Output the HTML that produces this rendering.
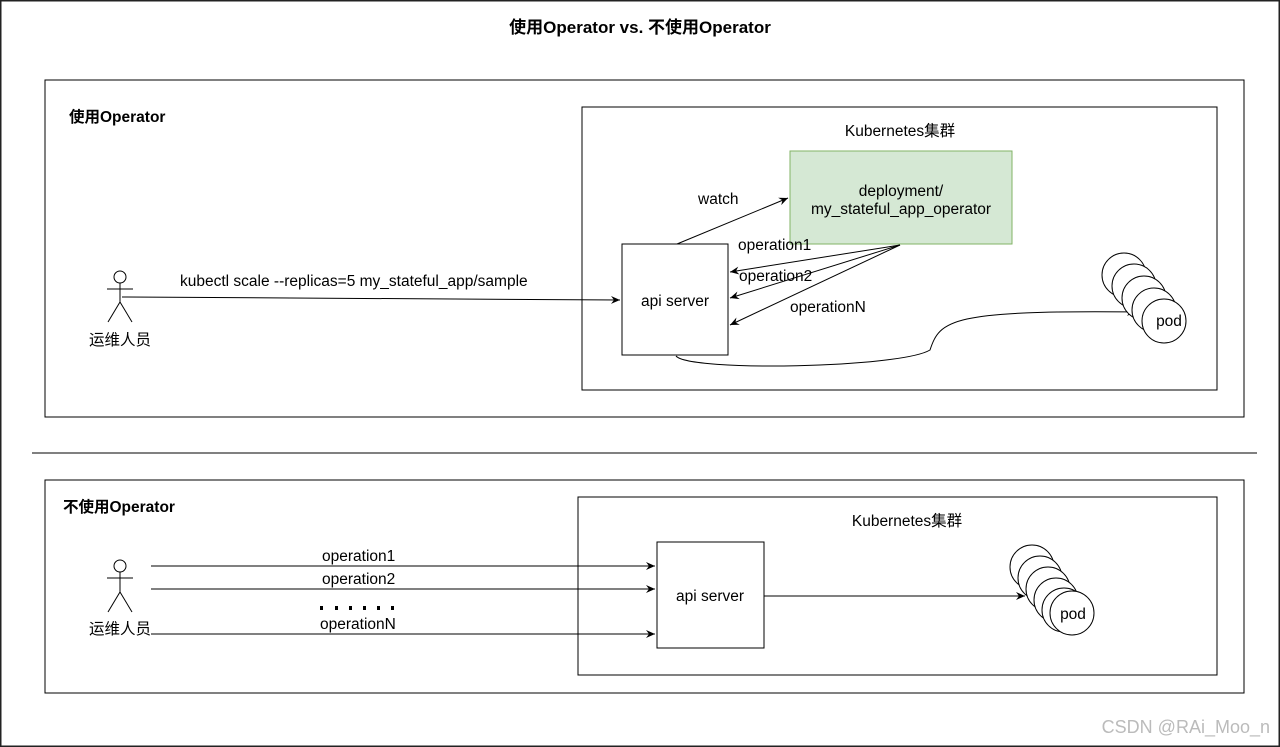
<!DOCTYPE html>
<html><head><meta charset="utf-8"><style>body{margin:0;background:#fff}svg{display:block}text{font-family:"Liberation Sans","Noto Sans CJK SC",sans-serif;font-size:15.5px;fill:#000}</style></head><body>
<svg width="1280" height="747" viewBox="0 0 1280 747">
<defs><marker id="a" markerWidth="10" markerHeight="10" refX="9" refY="5" orient="auto" markerUnits="userSpaceOnUse"><path d="M0,1 L9,5 L0,9 L3,5 Z" fill="#000"/></marker></defs>
<rect x="0.5" y="0.5" width="1279" height="746" fill="#fff" stroke="#222" stroke-width="2"/>
<text x="640" y="33" text-anchor="middle" font-weight="bold" style="font-size:17px">使用Operator vs. 不使用Operator</text>
<rect x="45" y="80" width="1199" height="337" fill="none" stroke="#000"/>
<text x="69" y="122" font-weight="bold">使用Operator</text>
<rect x="582" y="107" width="635" height="283" fill="none" stroke="#000"/>
<text x="900" y="136" text-anchor="middle">Kubernetes集群</text>
<rect x="790" y="151" width="222" height="93" fill="#d5e8d4" stroke="#82b366"/>
<text x="901" y="196" text-anchor="middle">deployment/</text>
<text x="901" y="214" text-anchor="middle">my_stateful_app_operator</text>
<rect x="622" y="244" width="106" height="111" fill="#fff" stroke="#000"/>
<text x="675" y="306" text-anchor="middle">api server</text>
<line x1="677" y1="244" x2="788" y2="198" stroke="#000" marker-end="url(#a)"/>
<text x="698" y="204">watch</text>
<line x1="900" y1="245" x2="730" y2="272" stroke="#000" marker-end="url(#a)"/>
<line x1="900" y1="245" x2="730" y2="298" stroke="#000" marker-end="url(#a)"/>
<line x1="900" y1="245" x2="730" y2="325" stroke="#000" marker-end="url(#a)"/>
<text x="738" y="250">operation1</text>
<text x="739" y="281">operation2</text>
<text x="790" y="312">operationN</text>
<path d="M676,356 C690,372 900,368 930,350 C940,320 950,310 1136,312" fill="none" stroke="#000" marker-end="url(#a)"/>
<g fill="#fff" stroke="#000"><circle cx="1124" cy="275" r="22"/><circle cx="1134" cy="286" r="22"/><circle cx="1144" cy="298" r="22"/><circle cx="1154" cy="310" r="22"/><circle cx="1164" cy="321" r="22"/></g>
<text x="1169" y="326" text-anchor="middle">pod</text>
<g stroke="#000" fill="none"><circle cx="120" cy="277" r="6"/><line x1="120" y1="283" x2="120" y2="302"/><line x1="107" y1="289" x2="133" y2="289"/><line x1="120" y1="302" x2="108" y2="322"/><line x1="120" y1="302" x2="132" y2="322"/></g>
<text x="120" y="345" text-anchor="middle">运维人员</text>
<line x1="122" y1="297" x2="620" y2="300" stroke="#000" marker-end="url(#a)"/>
<text x="180" y="286">kubectl scale --replicas=5 my_stateful_app/sample</text>
<line x1="32" y1="453" x2="1257" y2="453" stroke="#000"/>
<rect x="45" y="480" width="1199" height="213" fill="none" stroke="#000"/>
<text x="63" y="512" font-weight="bold">不使用Operator</text>
<rect x="578" y="497" width="639" height="178" fill="none" stroke="#000"/>
<text x="907" y="526" text-anchor="middle">Kubernetes集群</text>
<rect x="657" y="542" width="107" height="106" fill="#fff" stroke="#000"/>
<text x="710" y="601" text-anchor="middle">api server</text>
<line x1="764" y1="596" x2="1025" y2="596" stroke="#000" marker-end="url(#a)"/>
<g fill="#fff" stroke="#000"><circle cx="1032" cy="567" r="22"/><circle cx="1040" cy="578" r="22"/><circle cx="1048" cy="589" r="22"/><circle cx="1056" cy="600" r="22"/><circle cx="1064" cy="610" r="22"/><circle cx="1072" cy="613" r="22"/></g>
<text x="1073" y="619" text-anchor="middle">pod</text>
<g stroke="#000" fill="none"><circle cx="120" cy="566" r="6"/><line x1="120" y1="572" x2="120" y2="592"/><line x1="107" y1="578" x2="133" y2="578"/><line x1="120" y1="592" x2="108" y2="612"/><line x1="120" y1="592" x2="132" y2="612"/></g>
<text x="120" y="634" text-anchor="middle">运维人员</text>
<line x1="151" y1="566" x2="655" y2="566" stroke="#000" marker-end="url(#a)"/>
<line x1="151" y1="589" x2="655" y2="589" stroke="#000" marker-end="url(#a)"/>
<line x1="151" y1="634" x2="655" y2="634" stroke="#000" marker-end="url(#a)"/>
<text x="322" y="561">operation1</text>
<text x="322" y="584">operation2</text>
<text x="320" y="629">operationN</text>
<g fill="#000"><rect x="320" y="606" width="3" height="4"/><rect x="335" y="606" width="3" height="4"/><rect x="349" y="606" width="3" height="4"/><rect x="363" y="606" width="3" height="4"/><rect x="377" y="606" width="3" height="4"/><rect x="391" y="606" width="3" height="4"/></g>
<text x="1270" y="733" text-anchor="end" style="font-size:18px;fill:#bbb">CSDN @RAi_Moo_n</text>
</svg>
</body></html>
